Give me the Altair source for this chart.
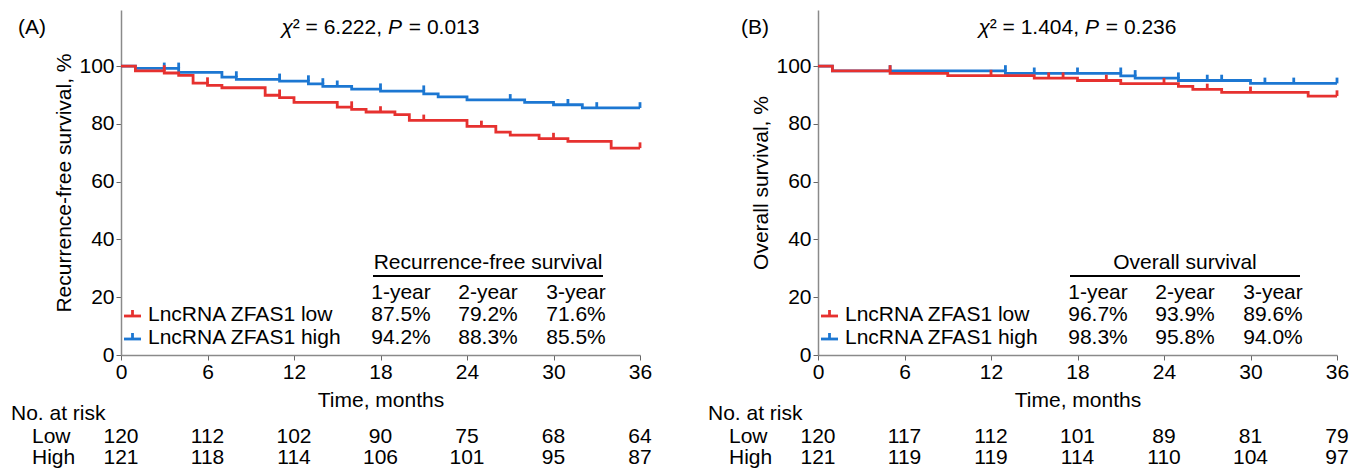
import altair as alt
import pandas as pd

# ---------------- data ----------------
GROUP_LOW = "LncRNA ZFAS1 low"
GROUP_HIGH = "LncRNA ZFAS1 high"
TICK_MONTHS = [0, 6, 12, 18, 24, 30, 36]
Y_TICKS = [0, 20, 40, 60, 80, 100]
YEARS = ["1-year", "2-year", "3-year"]
ROW_NAMES = ["Low", "High"]

# Panel A: recurrence-free survival
A_LOW_T = [0, 1, 3, 4, 5, 6, 7, 10, 11, 12, 15, 16, 17, 19, 20, 24, 26, 27, 29, 31, 34, 36]
A_LOW_S = [100, 98.3, 97.6, 96.8, 94.1, 93.3, 92.5, 89.9, 89.1, 87.4, 85.8, 85.0, 84.1, 83.2, 81.2, 79.1, 77.1, 76.1, 74.9, 73.9, 71.6, 71.6]
A_LOW_CENSOR = [3, 6, 11, 16, 18, 21, 25, 30, 36]
A_HIGH_T = [0, 1, 4, 7, 8, 11, 13, 14, 16, 18, 21, 22, 24, 28, 30, 32, 36]
A_HIGH_S = [100, 99.2, 97.8, 96.2, 95.4, 94.8, 93.8, 93.0, 92.0, 91.3, 90.4, 89.3, 88.3, 87.4, 86.6, 85.5, 85.5]
A_HIGH_CENSOR = [3, 4, 8, 11, 13, 14, 15, 18, 21, 27, 31, 33, 36]
A_RISK_LOW = [120, 112, 102, 90, 75, 68, 64]
A_RISK_HIGH = [121, 118, 114, 106, 101, 95, 87]
A_SURV_LOW = ["87.5%", "79.2%", "71.6%"]
A_SURV_HIGH = ["94.2%", "88.3%", "85.5%"]
A_CHI2 = "6.222"
A_P = "0.013"

# Panel B: overall survival
B_LOW_T = [0, 1, 5, 9, 15, 18, 21, 25, 26, 28, 34, 36]
B_LOW_S = [100, 98.3, 97.5, 96.7, 95.8, 95.0, 93.9, 93.0, 91.9, 90.9, 89.6, 89.6]
B_LOW_CENSOR = [5, 12, 16, 17, 20, 24, 27, 30, 36]
B_HIGH_T = [0, 1, 13, 21, 22, 25, 30, 36]
B_HIGH_S = [100, 98.3, 97.5, 96.6, 95.8, 95.0, 94.0, 94.0]
B_HIGH_CENSOR = [5, 13, 15, 18, 21, 22, 25, 27, 28, 31, 33, 36]
B_RISK_LOW = [120, 117, 112, 101, 89, 81, 79]
B_RISK_HIGH = [121, 119, 119, 114, 110, 104, 97]
B_SURV_LOW = ["96.7%", "93.9%", "89.6%"]
B_SURV_HIGH = ["98.3%", "95.8%", "94.0%"]
B_CHI2 = "1.404"
B_P = "0.236"

# ---------------- style / layout ----------------
RED = "#e6312f"
BLUE = "#1c77d2"
FONT = "Liberation Sans"
FS = 21
W, H = 519, 345
YMAX = 119.4
LW = 2.8
TICK_H = 2.0
DUMMY = pd.DataFrame({"d": [0]})


def censor_df(t, s, cens):
    lv = []
    for c in cens:
        prev = [sv for tv, sv in zip(t, s) if tv < c]
        lv.append(prev[-1])
    return pd.DataFrame({"t": cens, "s": lv, "s2": [v + TICK_H for v in lv]})


def label(text, x, y, align="left", italic=False, size=FS):
    return alt.Chart(DUMMY).mark_text(
        text=text, align=align, baseline="middle", font=FONT, fontSize=size,
        fontStyle="italic" if italic else "normal", color="black"
    ).encode(x=alt.value(x), y=alt.value(y))


def panel(tag, tag_x, ytitle, chi2, pval, low_t, low_s, low_c, high_t, high_s, high_c,
          surv_title, surv_low, surv_high, risk_low, risk_high):
    x = alt.X("t:Q", scale=alt.Scale(domain=[0, 36], nice=False, zero=False),
              axis=alt.Axis(values=TICK_MONTHS, title="Time, months"))
    y = alt.Y("s:Q", scale=alt.Scale(domain=[0, YMAX], nice=False),
              axis=alt.Axis(values=Y_TICKS, title=ytitle))

    layers = []
    for t, s, c, col in [(high_t, high_s, high_c, BLUE), (low_t, low_s, low_c, RED)]:
        df = pd.DataFrame({"t": t, "s": s})
        layers.append(alt.Chart(df).mark_line(interpolate="step-after", color=col,
                                              strokeWidth=LW).encode(x=x, y=y))
        layers.append(alt.Chart(censor_df(t, s, c)).mark_rule(color=col, strokeWidth=LW)
                      .encode(x=x, y=y, y2="s2:Q"))

    # statistic title  (chi^2 = ..., P = ...)
    cx = W / 2
    mid = "\u00b2 = " + chi2 + ","
    em = FS
    w_chi, w_mid, w_p, w_end = 0.53 * em, 4.531 * em, 0.667 * em + 0.33 * em, 3.36 * em
    x0 = cx - (w_chi + w_mid + w_p + w_end) / 2
    ty = 18
    layers.append(label("\u03c7", x0, ty, italic=True))
    layers.append(label(mid, x0 + w_chi, ty))
    layers.append(label("P", x0 + w_chi + w_mid, ty, italic=True))
    layers.append(label("= " + pval, x0 + w_chi + w_mid + w_p, ty))

    # panel tag
    layers.append(label(tag, tag_x, ty))

    # legend
    for i, (name, col) in enumerate([(GROUP_LOW, RED), (GROUP_HIGH, BLUE)]):
        ry = 306 + 23 * i
        layers.append(alt.Chart(DUMMY).mark_rule(color=col, strokeWidth=LW).encode(
            x=alt.value(3), x2=alt.value(20), y=alt.value(ry)))
        layers.append(alt.Chart(DUMMY).mark_rule(color=col, strokeWidth=LW).encode(
            x=alt.value(11.5), y=alt.value(ry - 6), y2=alt.value(ry)))
        layers.append(label(name, 27, ry - 1))

    # survival summary table
    cols = [280, 367, 455]
    layers.append(label(surv_title, 367, 253, align="center"))
    layers.append(alt.Chart(DUMMY).mark_rule(color="black", strokeWidth=2).encode(
        x=alt.value(252), x2=alt.value(482), y=alt.value(266)))
    for j in range(3):
        layers.append(label(YEARS[j], cols[j], 283, align="center"))
        layers.append(label(surv_low[j], cols[j], 305, align="center"))
        layers.append(label(surv_high[j], cols[j], 328, align="center"))

    # number at risk
    layers.append(label("No. at risk", -110, 404))
    for i, (rname, vals) in enumerate(zip(ROW_NAMES, [risk_low, risk_high])):
        ry = 427 + 21 * i
        layers.append(label(rname, -89, ry))
        rdf = pd.DataFrame({"t": TICK_MONTHS, "n": vals})
        layers.append(alt.Chart(rdf).mark_text(align="center", baseline="middle", font=FONT,
                                               fontSize=FS, color="black")
                      .encode(x=x, y=alt.value(ry), text="n:Q"))

    return alt.layer(*layers).properties(width=W, height=H)


pA = panel("(A)", -103, "Recurrence-free survival, %", A_CHI2, A_P,
           A_LOW_T, A_LOW_S, A_LOW_CENSOR, A_HIGH_T, A_HIGH_S, A_HIGH_CENSOR,
           "Recurrence-free survival", A_SURV_LOW, A_SURV_HIGH, A_RISK_LOW, A_RISK_HIGH)
pB = panel("(B)", -77, "Overall survival, %", B_CHI2, B_P,
           B_LOW_T, B_LOW_S, B_LOW_CENSOR, B_HIGH_T, B_HIGH_S, B_HIGH_CENSOR,
           "Overall survival", B_SURV_LOW, B_SURV_HIGH, B_RISK_LOW, B_RISK_HIGH)

chart = alt.hconcat(pA, pB, spacing=178, bounds="flush").properties(
    padding={"left": 11, "top": 10, "right": 5, "bottom": 0}
).configure(font=FONT).configure_view(stroke=None).configure_axis(
    labelFont=FONT, labelFontSize=FS, labelColor="black",
    titleFont=FONT, titleFontSize=FS, titleFontWeight="normal", titleColor="black",
    domainColor="#8a8a8a", domainWidth=1.5, tickColor="#666666", tickSize=5,
    grid=False, labelFlush=False, labelOverlap=False
).configure_axisX(labelPadding=1, titlePadding=7).configure_axisY(labelPadding=2, titlePadding=4)

chart.save("out.html", embed_options={"renderer": "svg", "actions": False})
